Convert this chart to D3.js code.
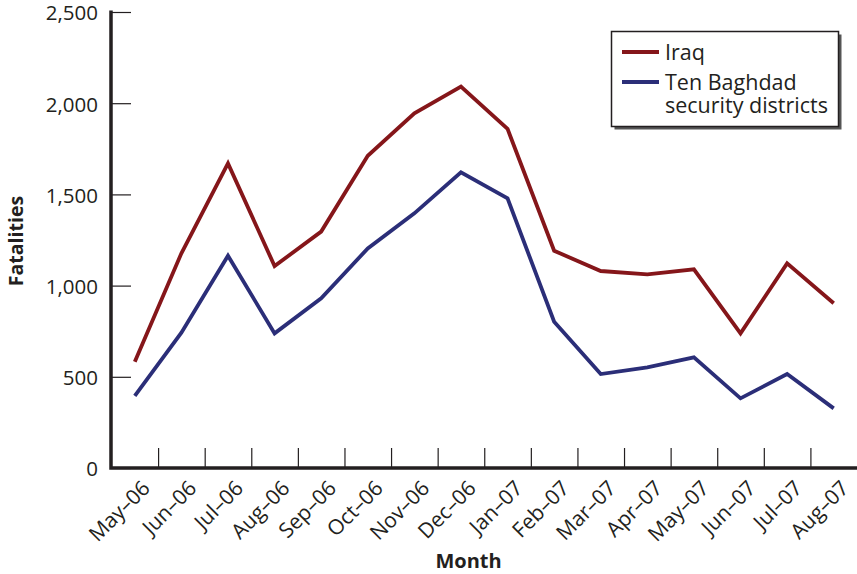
<!DOCTYPE html>
<html><head><meta charset="utf-8">
<script src="https://cdn.jsdelivr.net/npm/d3@7"></script>
<style>body{margin:0;background:#fff;} text{font-family:"Open Sans",sans-serif;fill:#231f20;}</style>
</head><body><svg id="c" width="857" height="574"></svg>
<script>
const months = ["May–06","Jun–06","Jul–06","Aug–06","Sep–06","Oct–06","Nov–06","Dec–06","Jan–07","Feb–07","Mar–07","Apr–07","May–07","Jun–07","Jul–07","Aug–07"];
const iraq = [583,1177,1670,1107,1296,1712,1945,2091,1859,1191,1080,1062,1089,738,1122,903];
const baghdad = [395,742,1164,738,930,1204,1396,1621,1478,802,515,552,607,382,515,327];
const yTicks = [0,500,1000,1500,2000,2500];
const seriesNames = ["Iraq","Ten Baghdad security districts"];

const svg = d3.select("#c");
const x = d3.scaleBand().domain(months).range([111.5, 857]).padding(0);
const y = d3.scaleLinear().domain([0,2500]).range([468,12]);
const ink = "#231f20";

// y tick marks inward
const yAxis = svg.append("g").attr("transform","translate(111,0)")
  .call(d3.axisRight(y).tickValues(yTicks).tickSize(20).tickFormat(""));
yAxis.select(".domain").remove();
yAxis.selectAll("line").attr("stroke",ink).attr("stroke-width",1.2);
// y labels
svg.append("g").selectAll("text").data(yTicks).join("text")
  .attr("x",98).attr("y",d=>y(d)+1).attr("dy","0.36em").attr("text-anchor","end")
  .attr("font-size",20.5).text(d=>d3.format(",")(d));

// x tick marks at band boundaries
const xAxis = svg.append("g").attr("transform","translate(0,468)")
  .call(d3.axisTop(d3.scaleLinear().domain([0,16]).range(x.range())).tickValues(d3.range(1,16)).tickSize(20).tickFormat(""));
xAxis.select(".domain").remove();
xAxis.selectAll("line").attr("stroke",ink).attr("stroke-width",1.2);

// x labels rotated
svg.append("g").selectAll("text").data(months).join("text")
  .attr("transform",d=>`translate(${x(d)+x.bandwidth()/2+6},${479}) rotate(-45)`)
  .attr("text-anchor","end").attr("dy","0.7em").attr("font-size",21).text(d=>d);

// axes lines
svg.append("path").attr("d",`M111,10.5V468H857`).attr("fill","none").attr("stroke",ink).attr("stroke-width",3.5);

// lines
const line = d3.line().x((d,i)=>x(months[i])+x.bandwidth()/2).y(d=>y(d));
svg.append("path").datum(iraq).attr("d",line).attr("fill","none").attr("stroke","#85161a").attr("stroke-width",3.8).attr("stroke-linejoin","miter");
svg.append("path").datum(baghdad).attr("d",line).attr("fill","none").attr("stroke","#2b2e78").attr("stroke-width",3.8).attr("stroke-linejoin","miter");

// axis titles
svg.append("text").attr("transform","translate(23,241) rotate(-90)").attr("text-anchor","middle")
  .attr("font-size",19.5).attr("font-weight","bold").text("Fatalities");
svg.append("text").attr("x",468.5).attr("y",568).attr("text-anchor","middle")
  .attr("font-size",20).attr("font-weight","bold").text("Month");

// legend
const lg = svg.append("g");
lg.append("rect").attr("x",614.5).attr("y",34.5).attr("width",227).attr("height",95).attr("fill","#555");
lg.append("rect").attr("x",611.5).attr("y",31.5).attr("width",227).attr("height",95).attr("fill","#fff").attr("stroke",ink).attr("stroke-width",1.5);
lg.append("line").attr("x1",622).attr("x2",659).attr("y1",52).attr("y2",52).attr("stroke","#85161a").attr("stroke-width",3.8);
lg.append("line").attr("x1",622).attr("x2",659).attr("y1",82).attr("y2",82).attr("stroke","#2b2e78").attr("stroke-width",3.8);
lg.append("text").attr("x",665).attr("y",60).attr("font-size",21.5).text(seriesNames[0]);
lg.append("text").attr("x",665).attr("y",90).attr("font-size",21.5).text("Ten Baghdad");
lg.append("text").attr("x",665).attr("y",113).attr("font-size",21.5).text("security districts");
</script></body></html>
